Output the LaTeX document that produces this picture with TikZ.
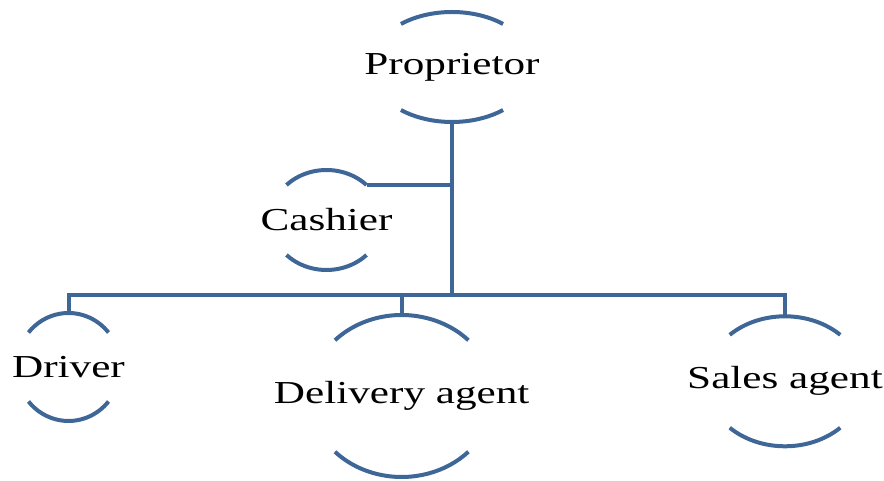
\documentclass[tikz,border=0pt]{standalone}
\usepackage{fontspec}
\setmainfont{Liberation Serif}[FakeStretch=1.35]
\usepackage{tikz}
\definecolor{orgblue}{HTML}{3E6797}
% two arcs round a role: #1 node, #2 x radius, #3 y radius, #4 end angle
\newcommand{\archpair}[4]{%
  \draw[archline] ([shift={(#4:#2 and #3)}]#1.center) arc[start angle=#4, end angle=180-#4, x radius=#2, y radius=#3];
  \draw[archline] ([shift={(-#4:#2 and #3)}]#1.center) arc[start angle=-#4, end angle=-180+#4, x radius=#2, y radius=#3];
  \coordinate (#1-top) at ([shift={(0,#3)}]#1.center);
  \coordinate (#1-bot) at ([shift={(0,-#3)}]#1.center);
  \coordinate (#1-end) at ([shift={(#4:#2 and #3)}]#1.center);
}

\begin{document}
\begin{tikzpicture}[
  x=0.5pt, y=0.5pt,
  role/.style={inner sep=0pt, font=\fontsize{16pt}{18pt}\selectfont\color{black}},
  archline/.style={draw=orgblue, line width=2pt},
  conn/.style={draw=orgblue, line width=2pt}
]
\useasboundingbox (0,0) rectangle (884,481);
\node[role] (prop) at (452,414) {Proprietor};
\node[role] (cash) at (326.5,261) {Cashier};
\node[role] (driver) at (68.5,114) {Driver};
\node[role] (deliv) at (401.7,85) {Delivery agent};
\node[role] (sales) at (785,99.7) {Sales agent};
\archpair{prop}{82}{55}{51.5}
\archpair{cash}{56}{50}{44.4}
\archpair{driver}{52}{54}{39.7}
\archpair{deliv}{92}{81}{43.5}
\archpair{sales}{79}{65}{45.6}
\coordinate (bus) at (452,186);
\draw[conn] (prop-bot) -- (bus);
\draw[conn] (cash-end) -- (cash-end -| prop-bot);
\draw[conn] (driver-top) |- (bus) -| (sales-top);
\draw[conn] (deliv-top) -- (deliv-top |- bus);
\end{tikzpicture}
\end{document}
